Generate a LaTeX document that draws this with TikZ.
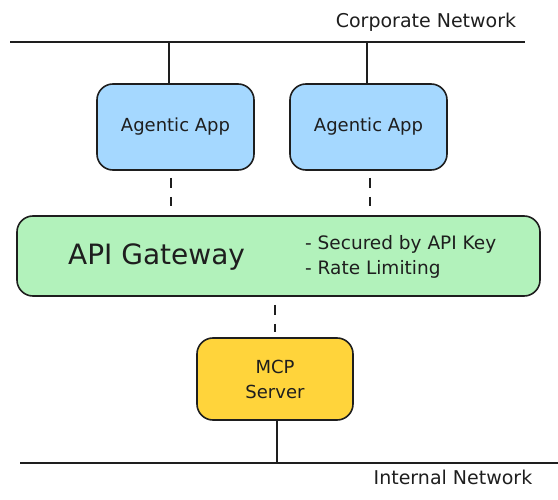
\documentclass[tikz,border=0pt]{standalone}
\usepackage{fontspec}
\setmainfont{DejaVu Sans}
\definecolor{ink}{HTML}{1E1E1E}
\definecolor{appblue}{HTML}{A5D8FF}
\definecolor{gwgreen}{HTML}{B2F2BB}
\definecolor{mcpyellow}{HTML}{FFD43B}
\begin{document}
\begin{tikzpicture}[x=1pt,y=-1pt,
  box/.style={draw=ink,line width=1.6pt,rounded corners=16pt,inner sep=0pt,align=center,text=ink},
  bus/.style={draw=ink,line width=2.2pt},
  link/.style={draw=ink,line width=1.3pt},
  dlink/.style={draw=ink,line width=1.5pt,dash pattern=on 10pt off 9pt},
  lbl/.style={text=ink,inner sep=0pt,font=\fontsize{19}{22}\selectfont}
]
\useasboundingbox (0,0) rectangle (558,500);
% buses
\coordinate (tl) at (10,42);
\coordinate (tr) at (525,42);
\coordinate (bl) at (20,463);
\coordinate (br) at (558,463);
\draw[bus] (tl) -- (tr);
\draw[bus,line width=1.8pt] (bl) -- (br);
\node[lbl,anchor=base] (corp) at (426,28) {Corporate Network};
\node[lbl,anchor=base] (intn) at (453,484) {Internal Network};
% boxes
\node[box,fill=appblue,minimum width=157pt,minimum height=86pt,font=\fontsize{18}{21}\selectfont] (app1) at (175.5,127) {Agentic App};
\node[box,fill=appblue,minimum width=157pt,minimum height=86pt,font=\fontsize{18}{21}\selectfont] (app2) at (368.5,127) {Agentic App};
\node[box,fill=gwgreen,minimum width=523pt,minimum height=80pt] (gw) at (278.5,256) {};
\node[text=ink,inner sep=0pt,anchor=west,font=\fontsize{28}{32}\selectfont] (gwt) at (68,257) {API Gateway};
\node[text=ink,inner sep=0pt,anchor=west,align=left,font=\fontsize{18.5}{25}\selectfont] (gwl) at (305,257) {- Secured by API Key\\- Rate Limiting};
\node[box,fill=mcpyellow,minimum width=156pt,minimum height=82pt,font=\fontsize{18}{25}\selectfont] (mcp) at (275,379) {MCP\\Server};
% links
\coordinate (c1) at (169,42);
\coordinate (c2) at (367,42);
\draw[link] (c1) -- (c1 |- app1.north);
\draw[link] (c2) -- (c2 |- app2.north);
\coordinate (d1) at (171,170);
\coordinate (d2) at (370,170);
\coordinate (d3) at (275,296);
\draw[dlink,shorten <=8pt,shorten >=9pt] (d1) -- (d1 |- gw.north);
\draw[dlink,shorten <=8pt,shorten >=9pt] (d2) -- (d2 |- gw.north);
\draw[dlink,shorten <=9pt,shorten >=5pt] (d3) -- (d3 |- mcp.north);
\coordinate (m1) at (277,420);
\draw[link] (m1) -- (m1 |- bl);
\end{tikzpicture}
\end{document}
